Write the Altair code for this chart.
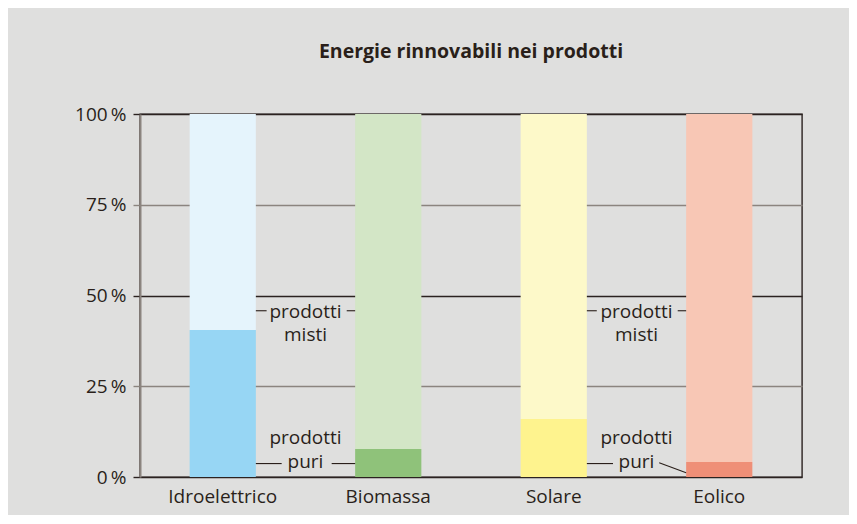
import altair as alt
import pandas as pd

# ---- data ----
categories = ["Idroelettrico", "Biomassa", "Solare", "Eolico"]
puri_values = [40.5, 7.7, 16.0, 4.1]          # % prodotti puri
light_colors = ["#e5f4fc", "#d3e6c6", "#fdf9c9", "#f8c7b5"]
dark_colors = ["#97d6f4", "#8fc27a", "#fef38e", "#ef8f77"]
y_ticks = [0, 25, 50, 75, 100]
title_text = "Energie rinnovabili nei prodotti"

# annotation texts (centred between bar pairs, in data units; y = first baseline)
ann_x = [0.5, 0.5, 2.5, 2.5]
ann_y = [43.9, 9.0, 43.9, 9.0]
ann_text = ["prodotti\nmisti", "prodotti\npuri", "prodotti\nmisti", "prodotti\npuri"]

# leader lines (data units: x = category index, y = percent)
seg_x = [0.2, 0.749, 0.2, 0.658, 2.2, 2.749, 2.2, 2.637]
seg_x2 = [0.265, 0.8, 0.356, 0.8, 2.26, 2.8, 2.358, 2.8]
seg_y = [45.8, 45.8, 3.7, 3.7, 45.8, 45.8, 3.7, 3.9]
seg_y2 = [45.8, 45.8, 3.7, 3.7, 45.8, 45.8, 3.7, 1.2]

TEXT = "#2a1f1a"
FONT = "Open Sans"
FS = 19

rows = []
keys, colors = [], []
for c, v, lc, dc in zip(categories, puri_values, light_colors, dark_colors):
    rows.append({"cat": c, "tipo": "puri", "y0": 0, "y1": v, "key": c + "|puri"})
    rows.append({"cat": c, "tipo": "misti", "y0": v, "y1": 100, "key": c + "|misti"})
    keys += [c + "|puri", c + "|misti"]
    colors += [dc, lc]
bars_df = pd.DataFrame(rows)

ann_df = pd.DataFrame({"x": ann_x, "y": ann_y, "t": ann_text})
seg_df = pd.DataFrame({"x": seg_x, "x2": seg_x2, "y": seg_y, "y2": seg_y2})

yscale = alt.Scale(domain=[0, 100], nice=False, zero=True)

bars = alt.Chart(bars_df).mark_bar(opacity=1).encode(
    x=alt.X("cat:N", sort=categories,
            scale=alt.Scale(paddingInner=0.6, paddingOuter=0.3),
            axis=alt.Axis(title=None, labelAngle=0, ticks=False, domain=False,
                          labelFontSize=FS, labelFont=FONT, labelColor=TEXT,
                          labelPadding=10)),
    y=alt.Y("y0:Q", scale=yscale,
            axis=alt.Axis(title=None, values=y_ticks,
                          labelExpr="format(datum.value, 'd') + '\u2009%'",
                          labelFontSize=FS, labelFont=FONT, labelColor=TEXT,
                          labelPadding=7, tickSize=7, tickWidth=1.4,
                          domainColor="#8b847f", domainWidth=2,
                          grid=True, gridWidth=1.4,
                          gridColor={"condition": {"test": "datum.value == 25 || datum.value == 75",
                                                   "value": "#8b847f"},
                                     "value": "#2b2220"},
                          tickColor={"condition": {"test": "datum.value == 25 || datum.value == 75",
                                                   "value": "#8b847f"},
                                     "value": "#2b2220"})),
    y2="y1:Q",
    color=alt.Color("key:N", scale=alt.Scale(domain=keys, range=colors), legend=None),
)

xq = alt.Scale(domain=[-0.5, 3.5], nice=False, zero=False)

segs = alt.Chart(seg_df).mark_rule(color=TEXT, strokeWidth=1.1).encode(
    x=alt.X("x:Q", scale=xq, axis=None),
    x2="x2:Q",
    y=alt.Y("y:Q", scale=yscale),
    y2="y2:Q",
)

texts = alt.Chart(ann_df).mark_text(font=FONT, fontSize=FS, color=TEXT,
                                   baseline="alphabetic", align="center",
                                   lineBreak="\n", lineHeight=23.5).encode(
    x=alt.X("x:Q", scale=xq, axis=None),
    y=alt.Y("y:Q", scale=yscale),
    text="t:N",
)

chart = alt.layer(bars, segs, texts).resolve_scale(x="independent").properties(
    width=662, height=363,
    background="#dfdfde",
    padding={"left": 132, "top": 106, "right": 47, "bottom": 38},
    autosize=alt.AutoSizeParams(type="none"),
    title=alt.Title(title_text, font=FONT, fontSize=19.5, fontWeight="bold",
                    color=TEXT, anchor="middle", offset=43),
).configure_view(stroke="#2b2220", strokeWidth=1.4)

chart.save("out.html", embed_options={"renderer": "svg", "actions": False})
